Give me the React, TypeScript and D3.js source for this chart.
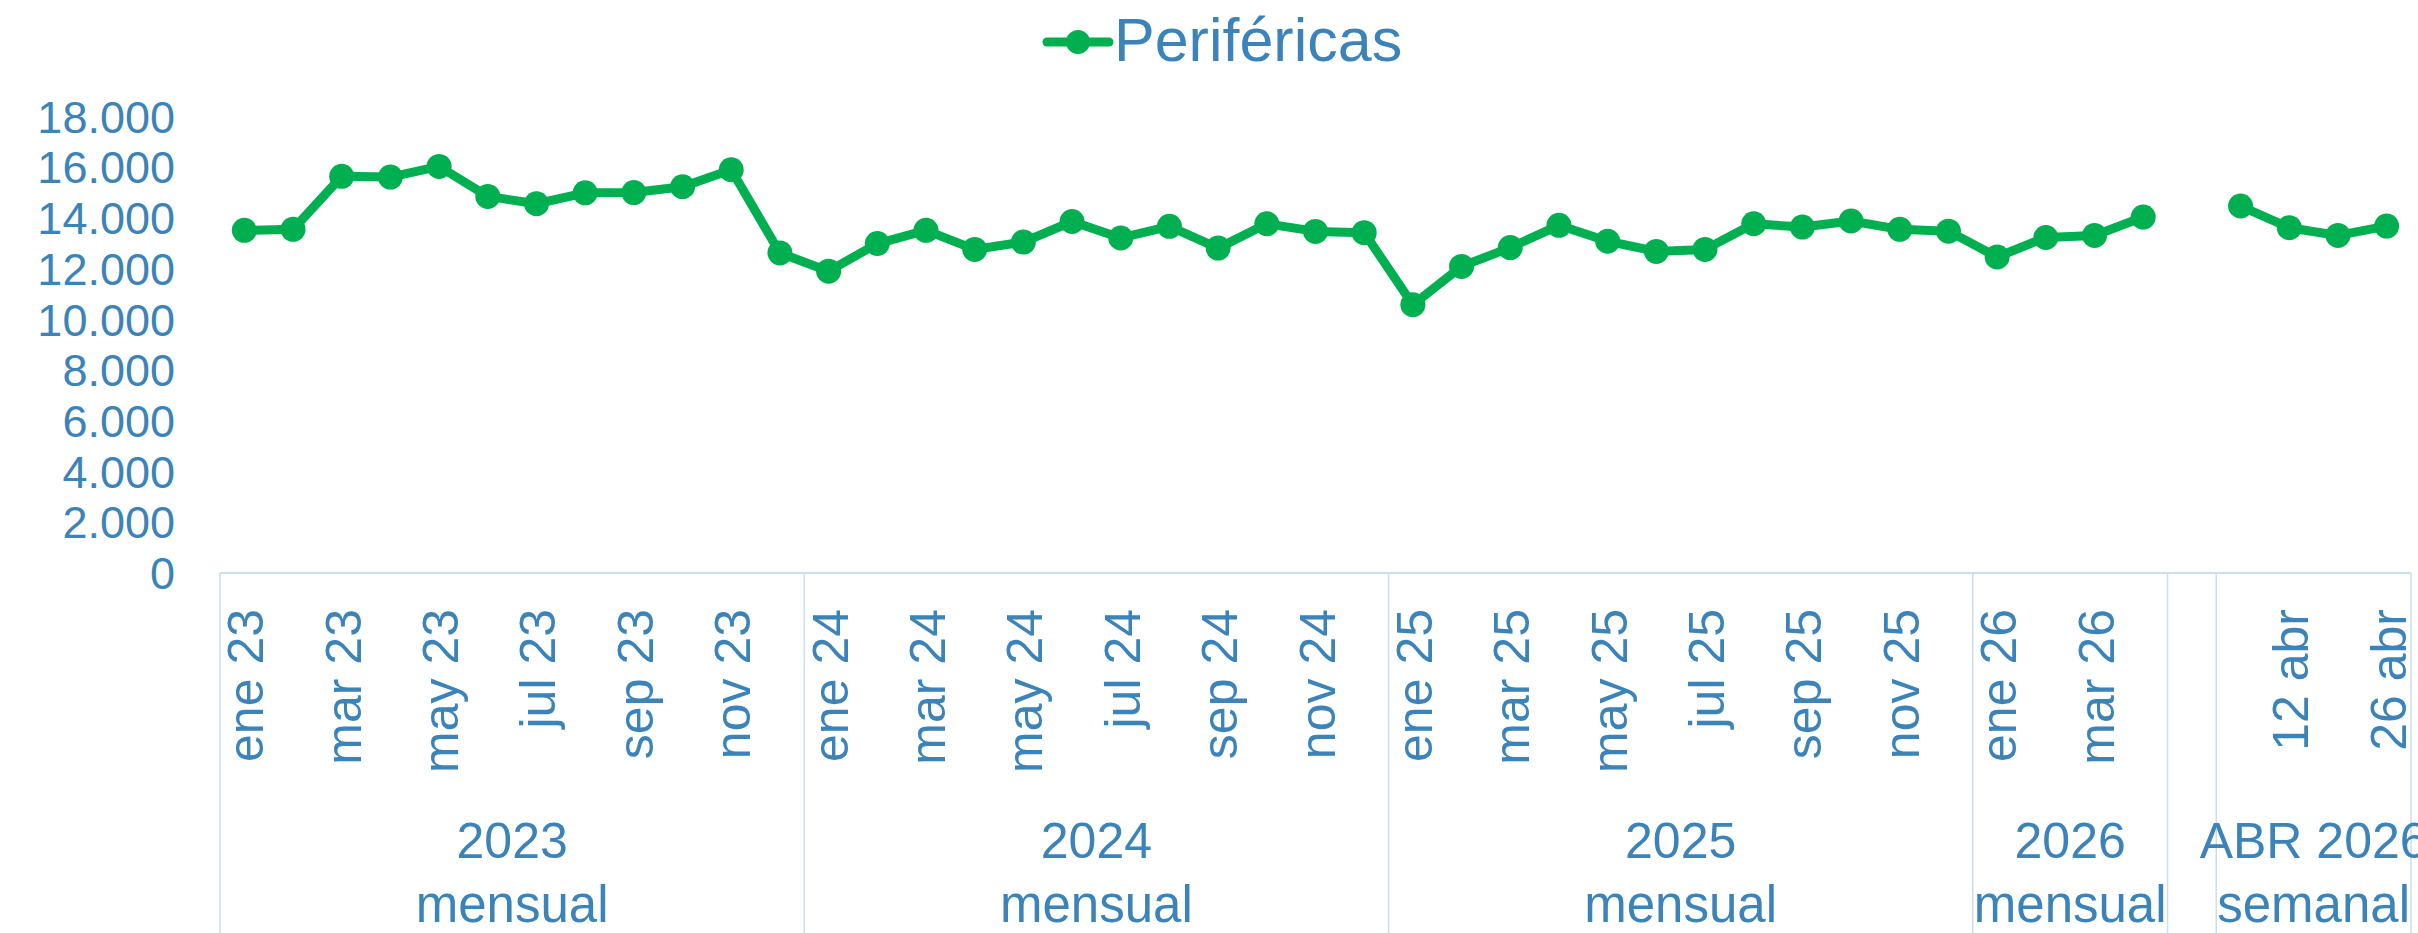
import React from "react";
import * as d3 from "d3";

const W = 2418;
const H = 933;

// Category labels (innermost level)
const monthLabels = [
  "ene 23", "feb 23", "mar 23", "abr 23", "may 23", "jun 23", "jul 23", "ago 23", "sep 23", "oct 23", "nov 23", "dic 23",
  "ene 24", "feb 24", "mar 24", "abr 24", "may 24", "jun 24", "jul 24", "ago 24", "sep 24", "oct 24", "nov 24", "dic 24",
  "ene 25", "feb 25", "mar 25", "abr 25", "may 25", "jun 25", "jul 25", "ago 25", "sep 25", "oct 25", "nov 25", "dic 25",
  "ene 26", "feb 26", "mar 26", "abr 26",
  "",
  "5 abr", "12 abr", "19 abr", "26 abr",
];

// Series values (null = no data)
const perifericas: (number | null)[] = [
  13510, 13550, 15640, 15610, 16030, 14850, 14560, 14990, 15000, 15230, 15900, 12620,
  11900, 12990, 13510, 12760, 13050, 13860, 13210, 13670, 12810, 13770, 13470, 13420,
  10580, 12090, 12830, 13710, 13080, 12680, 12760, 13770, 13640, 13880, 13550, 13480,
  12460, 13230, 13310, 14035,
  null,
  14470, 13615, 13310, 13680,
];

// Group levels
const yearLabels = ["2023", "2024", "2025", "2026", "", "ABR 2026"];
const freqLabels = ["mensual", "mensual", "mensual", "mensual", "", "semanal"];
const groupSizes = [12, 12, 12, 4, 1, 4];

const yTicks = [0, 2000, 4000, 6000, 8000, 10000, 12000, 14000, 16000, 18000];
const seriesName = "Periféricas";

const TEXT = "#3B83B9";
const GREEN = "#00B050";
const AXIS = "#CCDDEC";
const FONT = "'Liberation Sans', Arial, sans-serif";

const esLocale = d3.formatLocale({ decimal: ",", thousands: ".", grouping: [3], currency: ["", ""] });
const fmt = esLocale.format(",");

export default function App() {
  const x = d3
    .scaleBand<number>()
    .domain(d3.range(monthLabels.length))
    .range([220, 2411])
    .padding(0);
  const y = d3.scaleLinear().domain([0, 18000]).range([573, 116.5]);
  const cx = (i: number) => (x(i) as number) + x.bandwidth() / 2;

  const line = d3
    .line<number | null>()
    .defined((v) => v != null)
    .x((_, i) => cx(i))
    .y((v) => y(v as number));

  // group boundaries
  const starts: number[] = [];
  let acc = 0;
  groupSizes.forEach((s) => {
    starts.push(acc);
    acc += s;
  });
  const boundaries = [0, ...groupSizes.map((_, g) => starts[g] + groupSizes[g])];
  const bx = (idx: number) =>
    idx >= monthLabels.length ? x.range()[1] : (x(idx) as number);

  const axisY = y(0);

  return (
    <svg
      width={W}
      height={H}
      style={{ position: "absolute", left: 0, top: 0, background: "#fff" }}
      fontFamily={FONT}
    >
      <rect x={0} y={0} width={W} height={H} fill="#fff" />
      {/* Legend */}
      <g>
        <line x1={1047} x2={1109} y1={42} y2={42} stroke={GREEN} strokeWidth={9} strokeLinecap="round" />
        <circle cx={1078} cy={42} r={12} fill={GREEN} />
        <text x={1114} y={61} fontSize={61} fill={TEXT}>
          {seriesName}
        </text>
      </g>

      {/* Y tick labels */}
      {yTicks.map((t) => (
        <text
          key={t}
          x={175}
          y={y(t)}
          dy="0.36em"
          textAnchor="end"
          fontSize={45}
          fill={TEXT}
        >
          {fmt(t)}
        </text>
      ))}

      {/* X axis line */}
      <line x1={220} x2={2411} y1={axisY} y2={axisY} stroke={AXIS} strokeWidth={2} />

      {/* Group separator lines */}
      {boundaries.map((b, k) => (
        <line
          key={k}
          x1={bx(b)}
          x2={bx(b)}
          y1={axisY}
          y2={H}
          stroke={AXIS}
          strokeWidth={1.5}
        />
      ))}

      {/* Category labels (every other) */}
      {monthLabels.map((lab, i) =>
        i % 2 === 0 && lab ? (
          <text
            key={i}
            transform={`translate(${cx(i) + 19},${609}) rotate(-90)`}
            textAnchor="end"
            fontSize={50}
            fill={TEXT}
          >
            {lab}
          </text>
        ) : null
      )}

      {/* Year level */}
      {yearLabels.map((lab, g) => {
        const a = x(starts[g]) as number;
        const b = bx(starts[g] + groupSizes[g]);
        return (
          <text key={g} x={(a + b) / 2} y={858} textAnchor="middle" fontSize={50} fill={TEXT}>
            {lab}
          </text>
        );
      })}

      {/* Frequency level */}
      {freqLabels.map((lab, g) => {
        const a = x(starts[g]) as number;
        const b = bx(starts[g] + groupSizes[g]);
        return (
          <text key={g} x={(a + b) / 2} y={922} textAnchor="middle" fontSize={51} fill={TEXT}>
            {lab}
          </text>
        );
      })}

      {/* Series line */}
      <path
        d={line(perifericas) || ""}
        fill="none"
        stroke={GREEN}
        strokeWidth={9}
        strokeLinejoin="round"
        strokeLinecap="round"
      />
      {perifericas.map((v, i) =>
        v == null ? null : <circle key={i} cx={cx(i)} cy={y(v)} r={12.5} fill={GREEN} />
      )}
    </svg>
  );
}
